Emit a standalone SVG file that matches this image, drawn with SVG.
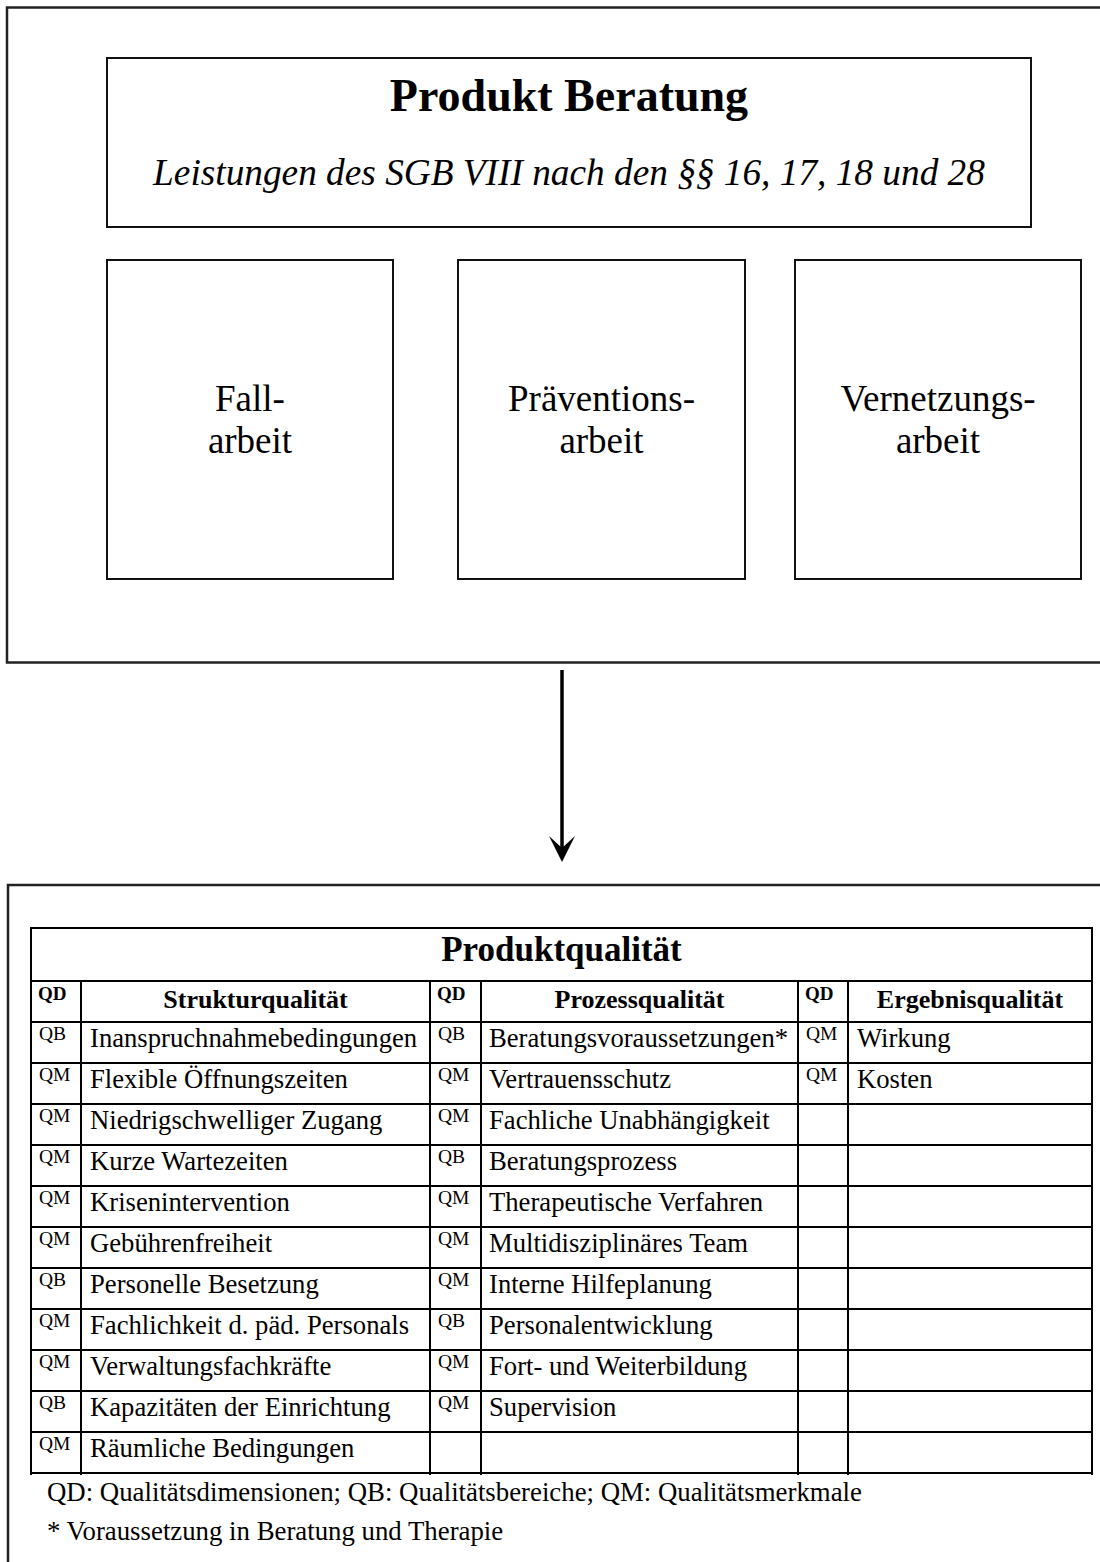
<svg xmlns="http://www.w3.org/2000/svg" width="1100" height="1562" viewBox="0 0 1100 1562">
<style>
.box{fill:#fff;stroke:#111;stroke-width:2}
.frame{fill:none;stroke:#222;stroke-width:2.5}
.grid line{stroke:#000;stroke-width:2}
text{font-family:"Liberation Serif","Times New Roman",serif;fill:#000}
.t{font-size:46px;font-weight:bold;text-anchor:middle}
.st{font-size:37.3px;font-style:italic;text-anchor:middle}
.sb{font-size:37px;text-anchor:middle}
.tt{font-size:35px;font-weight:bold;text-anchor:middle}
.h{font-size:26px;font-weight:bold;text-anchor:middle}
.qd{font-size:19px;font-weight:bold}
.q{font-size:19.5px}
.d{font-size:26.67px}
.fn{font-size:26.8px}
</style>
<g id="frame-top"><rect class="frame" x="7" y="7.5" width="1110" height="655"/></g>
<g id="produkt-beratung">
<rect class="box" x="107" y="58" width="924" height="169"/>
<text class="t" x="569" y="111">Produkt Beratung</text>
<text class="st" x="569" y="185">Leistungen des SGB VIII nach den §§ 16, 17, 18 und 28</text>
</g>
<g id="fallarbeit">
<rect class="box" x="107" y="260" width="286" height="319"/>
<text class="sb" x="250" y="411">Fall-</text>
<text class="sb" x="250" y="453">arbeit</text>
</g>
<g id="praeventionsarbeit">
<rect class="box" x="458" y="260" width="287" height="319"/>
<text class="sb" x="601.5" y="411">Präventions-</text>
<text class="sb" x="601.5" y="453">arbeit</text>
</g>
<g id="vernetzungsarbeit">
<rect class="box" x="795" y="260" width="286" height="319"/>
<text class="sb" x="938" y="411">Vernetzungs-</text>
<text class="sb" x="938" y="453">arbeit</text>
</g>
<g id="connectors">
<line x1="562" y1="670" x2="562" y2="850" stroke="#000" stroke-width="3.5"/>
<polygon points="549,836 562,848 575,836 562,862" fill="#000"/>
</g>
<g id="frame-bottom"><rect class="frame" x="8" y="885" width="1110" height="700"/></g>
<g id="produktqualitaet">
<g class="grid">
<line x1="31" y1="928" x2="1092" y2="928"/>
<line x1="31" y1="981" x2="1092" y2="981"/>
<line x1="31" y1="1022" x2="1092" y2="1022"/>
<line x1="31" y1="1063" x2="1092" y2="1063"/>
<line x1="31" y1="1104" x2="1092" y2="1104"/>
<line x1="31" y1="1145" x2="1092" y2="1145"/>
<line x1="31" y1="1186" x2="1092" y2="1186"/>
<line x1="31" y1="1227" x2="1092" y2="1227"/>
<line x1="31" y1="1268" x2="1092" y2="1268"/>
<line x1="31" y1="1309" x2="1092" y2="1309"/>
<line x1="31" y1="1350" x2="1092" y2="1350"/>
<line x1="31" y1="1391" x2="1092" y2="1391"/>
<line x1="31" y1="1432" x2="1092" y2="1432"/>
<line x1="31" y1="1473" x2="1092" y2="1473"/>
<line x1="31" y1="927" x2="31" y2="1475"/>
<line x1="1092" y1="927" x2="1092" y2="1475"/>
<line x1="81" y1="981" x2="81" y2="1475"/>
<line x1="430" y1="981" x2="430" y2="1475"/>
<line x1="481" y1="981" x2="481" y2="1475"/>
<line x1="798" y1="981" x2="798" y2="1475"/>
<line x1="848" y1="981" x2="848" y2="1475"/>
</g>
<text class="tt" x="561.5" y="961">Produktqualität</text>
<text class="qd" x="38" y="1000">QD</text>
<text class="h" x="255.5" y="1008">Strukturqualität</text>
<text class="qd" x="437" y="1000">QD</text>
<text class="h" x="639.5" y="1008">Prozessqualität</text>
<text class="qd" x="805" y="1000">QD</text>
<text class="h" x="970" y="1008">Ergebnisqualität</text>

<text class="q" x="39" y="1040">QB</text><text class="d" x="90" y="1047">Inanspruchnahmebedingungen</text>
<text class="q" x="39" y="1081">QM</text><text class="d" x="90" y="1088">Flexible Öffnungszeiten</text>
<text class="q" x="39" y="1122">QM</text><text class="d" x="90" y="1129">Niedrigschwelliger Zugang</text>
<text class="q" x="39" y="1163">QM</text><text class="d" x="90" y="1170">Kurze Wartezeiten</text>
<text class="q" x="39" y="1204">QM</text><text class="d" x="90" y="1211">Krisenintervention</text>
<text class="q" x="39" y="1245">QM</text><text class="d" x="90" y="1252">Gebührenfreiheit</text>
<text class="q" x="39" y="1286">QB</text><text class="d" x="90" y="1293">Personelle Besetzung</text>
<text class="q" x="39" y="1327">QM</text><text class="d" x="90" y="1334">Fachlichkeit d. päd. Personals</text>
<text class="q" x="39" y="1368">QM</text><text class="d" x="90" y="1375">Verwaltungsfachkräfte</text>
<text class="q" x="39" y="1409">QB</text><text class="d" x="90" y="1416">Kapazitäten der Einrichtung</text>
<text class="q" x="39" y="1450">QM</text><text class="d" x="90" y="1457">Räumliche Bedingungen</text>

<text class="q" x="438" y="1040">QB</text><text class="d" x="489" y="1047">Beratungsvoraussetzungen*</text>
<text class="q" x="438" y="1081">QM</text><text class="d" x="489" y="1088">Vertrauensschutz</text>
<text class="q" x="438" y="1122">QM</text><text class="d" x="489" y="1129">Fachliche Unabhängigkeit</text>
<text class="q" x="438" y="1163">QB</text><text class="d" x="489" y="1170">Beratungsprozess</text>
<text class="q" x="438" y="1204">QM</text><text class="d" x="489" y="1211">Therapeutische Verfahren</text>
<text class="q" x="438" y="1245">QM</text><text class="d" x="489" y="1252">Multidisziplinäres Team</text>
<text class="q" x="438" y="1286">QM</text><text class="d" x="489" y="1293">Interne Hilfeplanung</text>
<text class="q" x="438" y="1327">QB</text><text class="d" x="489" y="1334">Personalentwicklung</text>
<text class="q" x="438" y="1368">QM</text><text class="d" x="489" y="1375">Fort- und Weiterbildung</text>
<text class="q" x="438" y="1409">QM</text><text class="d" x="489" y="1416">Supervision</text>

<text class="q" x="806" y="1040">QM</text><text class="d" x="857" y="1047">Wirkung</text>
<text class="q" x="806" y="1081">QM</text><text class="d" x="857" y="1088">Kosten</text>
</g>
<g id="legende">
<text class="fn" x="47" y="1501">QD: Qualitätsdimensionen; QB: Qualitätsbereiche; QM: Qualitätsmerkmale</text>
<text class="fn" x="47" y="1540">* Voraussetzung in Beratung und Therapie</text>
</g>
</svg>
